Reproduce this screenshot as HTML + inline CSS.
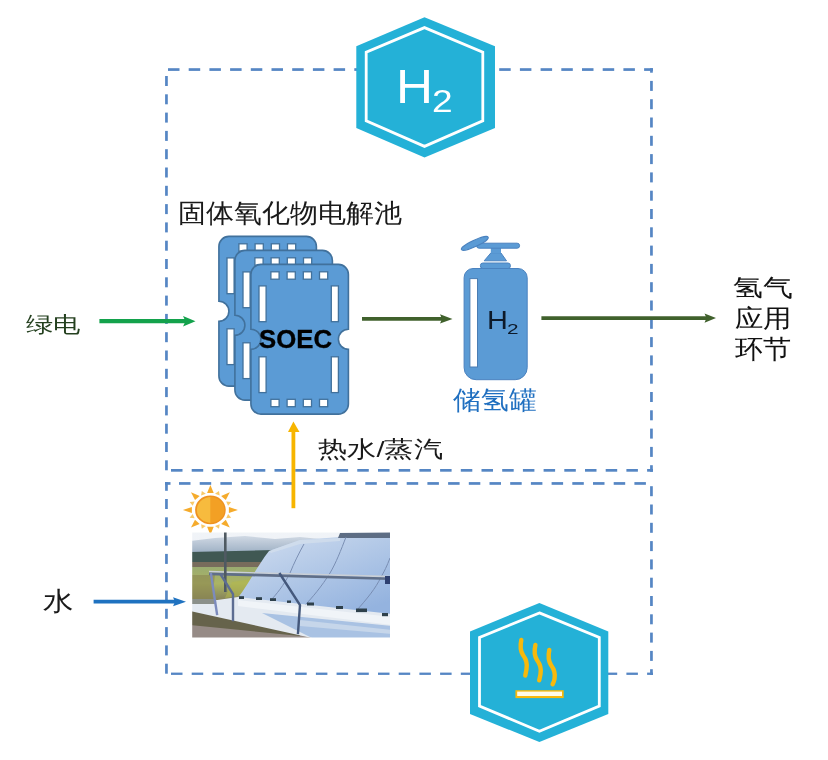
<!DOCTYPE html>
<html><head><meta charset="utf-8">
<style>
html,body{margin:0;padding:0;background:#fff;}
body{width:828px;height:760px;position:relative;overflow:hidden;font-family:"Liberation Sans",sans-serif;}
.t{position:absolute;white-space:nowrap;transform-origin:0 0;line-height:1;}
svg{position:absolute;left:0;top:0;}
</style></head><body>
<svg width="828" height="760" viewBox="0 0 828 760">
<defs>
  <g id="plate">
    <path d="M10,0 H87.5 A10,10 0 0 1 97.5,10 V64.85 A10,10 0 0 0 97.5,84.85 V139.7 A10,10 0 0 1 87.5,149.7 H10 A10,10 0 0 1 0,139.7 V84.85 A10,10 0 0 0 0,64.85 V10 A10,10 0 0 1 10,0 Z" fill="#5b9bd5" stroke="#41719c" stroke-width="1.6"/>
    <g fill="#fff" stroke="#41719c" stroke-width="1.3">
      <rect x="20.0" y="7.4" width="8.2" height="7.4"/><rect x="20.0" y="134.9" width="8.2" height="7.4"/>
      <rect x="36.2" y="7.4" width="8.2" height="7.4"/><rect x="36.2" y="134.9" width="8.2" height="7.4"/>
      <rect x="52.4" y="7.4" width="8.2" height="7.4"/><rect x="52.4" y="134.9" width="8.2" height="7.4"/>
      <rect x="68.6" y="7.4" width="8.2" height="7.4"/><rect x="68.6" y="134.9" width="8.2" height="7.4"/>
      <rect x="8.1" y="21.5" width="7.1" height="35.8"/>
      <rect x="8.1" y="92.4" width="7.1" height="35.8"/>
      <rect x="80.4" y="21.5" width="7.1" height="35.8"/>
      <rect x="80.4" y="92.4" width="7.1" height="35.8"/>
    </g>
  </g>
</defs>
<!-- dashed boxes -->
<g fill="#5586c4"><rect x="168.0" y="68.2" width="11.5" height="2.7"/><rect x="188.7" y="68.2" width="11.5" height="2.7"/><rect x="209.4" y="68.2" width="11.5" height="2.7"/><rect x="230.1" y="68.2" width="11.5" height="2.7"/><rect x="250.8" y="68.2" width="11.5" height="2.7"/><rect x="271.5" y="68.2" width="11.5" height="2.7"/><rect x="292.2" y="68.2" width="11.5" height="2.7"/><rect x="312.9" y="68.2" width="11.5" height="2.7"/><rect x="333.6" y="68.2" width="11.5" height="2.7"/><rect x="354.3" y="68.2" width="11.5" height="2.7"/><rect x="375.0" y="68.2" width="11.5" height="2.7"/><rect x="395.7" y="68.2" width="11.5" height="2.7"/><rect x="416.4" y="68.2" width="11.5" height="2.7"/><rect x="437.1" y="68.2" width="11.5" height="2.7"/><rect x="457.8" y="68.2" width="11.5" height="2.7"/><rect x="478.5" y="68.2" width="11.5" height="2.7"/><rect x="499.2" y="68.2" width="11.5" height="2.7"/><rect x="519.9" y="68.2" width="11.5" height="2.7"/><rect x="540.6" y="68.2" width="11.5" height="2.7"/><rect x="561.3" y="68.2" width="11.5" height="2.7"/><rect x="582.0" y="68.2" width="11.5" height="2.7"/><rect x="602.7" y="68.2" width="11.5" height="2.7"/><rect x="623.4" y="68.2" width="11.5" height="2.7"/><rect x="644.1" y="68.2" width="8.9" height="2.7"/><rect x="650.1" y="68.2" width="2.7" height="4.5"/><rect x="165.1" y="76.0" width="2.7" height="10.0"/><rect x="165.1" y="94.3" width="2.7" height="10.0"/><rect x="165.1" y="112.6" width="2.7" height="10.0"/><rect x="165.1" y="130.9" width="2.7" height="10.0"/><rect x="165.1" y="149.2" width="2.7" height="10.0"/><rect x="165.1" y="167.5" width="2.7" height="10.0"/><rect x="165.1" y="185.8" width="2.7" height="10.0"/><rect x="165.1" y="204.1" width="2.7" height="10.0"/><rect x="165.1" y="222.4" width="2.7" height="10.0"/><rect x="165.1" y="240.7" width="2.7" height="10.0"/><rect x="165.1" y="259.0" width="2.7" height="10.0"/><rect x="165.1" y="277.3" width="2.7" height="10.0"/><rect x="165.1" y="295.6" width="2.7" height="10.0"/><rect x="165.1" y="313.9" width="2.7" height="10.0"/><rect x="165.1" y="332.2" width="2.7" height="10.0"/><rect x="165.1" y="350.5" width="2.7" height="10.0"/><rect x="165.1" y="368.8" width="2.7" height="10.0"/><rect x="165.1" y="387.1" width="2.7" height="10.0"/><rect x="165.1" y="405.4" width="2.7" height="10.0"/><rect x="165.1" y="423.7" width="2.7" height="10.0"/><rect x="165.1" y="442.0" width="2.7" height="10.0"/><rect x="165.1" y="460.3" width="2.7" height="10.0"/><rect x="650.1" y="80.9" width="2.7" height="10.0"/><rect x="650.1" y="99.2" width="2.7" height="10.0"/><rect x="650.1" y="117.5" width="2.7" height="10.0"/><rect x="650.1" y="135.8" width="2.7" height="10.0"/><rect x="650.1" y="154.1" width="2.7" height="10.0"/><rect x="650.1" y="172.4" width="2.7" height="10.0"/><rect x="650.1" y="190.7" width="2.7" height="10.0"/><rect x="650.1" y="209.0" width="2.7" height="10.0"/><rect x="650.1" y="227.3" width="2.7" height="10.0"/><rect x="650.1" y="245.6" width="2.7" height="10.0"/><rect x="650.1" y="263.9" width="2.7" height="10.0"/><rect x="650.1" y="282.2" width="2.7" height="10.0"/><rect x="650.1" y="300.5" width="2.7" height="10.0"/><rect x="650.1" y="318.8" width="2.7" height="10.0"/><rect x="650.1" y="337.1" width="2.7" height="10.0"/><rect x="650.1" y="355.4" width="2.7" height="10.0"/><rect x="650.1" y="373.7" width="2.7" height="10.0"/><rect x="650.1" y="392.0" width="2.7" height="10.0"/><rect x="650.1" y="410.3" width="2.7" height="10.0"/><rect x="650.1" y="428.6" width="2.7" height="10.0"/><rect x="650.1" y="446.9" width="2.7" height="10.0"/><rect x="650.1" y="465.2" width="2.7" height="6.6"/><rect x="171.0" y="469.0" width="11.5" height="2.7"/><rect x="191.7" y="469.0" width="11.5" height="2.7"/><rect x="212.4" y="469.0" width="11.5" height="2.7"/><rect x="233.1" y="469.0" width="11.5" height="2.7"/><rect x="253.8" y="469.0" width="11.5" height="2.7"/><rect x="274.5" y="469.0" width="11.5" height="2.7"/><rect x="295.2" y="469.0" width="11.5" height="2.7"/><rect x="315.9" y="469.0" width="11.5" height="2.7"/><rect x="336.6" y="469.0" width="11.5" height="2.7"/><rect x="357.3" y="469.0" width="11.5" height="2.7"/><rect x="378.0" y="469.0" width="11.5" height="2.7"/><rect x="398.7" y="469.0" width="11.5" height="2.7"/><rect x="419.4" y="469.0" width="11.5" height="2.7"/><rect x="440.1" y="469.0" width="11.5" height="2.7"/><rect x="460.8" y="469.0" width="11.5" height="2.7"/><rect x="481.5" y="469.0" width="11.5" height="2.7"/><rect x="502.2" y="469.0" width="11.5" height="2.7"/><rect x="522.9" y="469.0" width="11.5" height="2.7"/><rect x="543.6" y="469.0" width="11.5" height="2.7"/><rect x="564.3" y="469.0" width="11.5" height="2.7"/><rect x="585.0" y="469.0" width="11.5" height="2.7"/><rect x="605.7" y="469.0" width="11.5" height="2.7"/><rect x="626.4" y="469.0" width="11.5" height="2.7"/><rect x="647.1" y="469.0" width="5.9" height="2.7"/><rect x="165.0" y="482.1" width="5.5" height="2.7"/><rect x="179.0" y="482.1" width="11.5" height="2.7"/><rect x="199.7" y="482.1" width="11.5" height="2.7"/><rect x="220.4" y="482.1" width="11.5" height="2.7"/><rect x="241.1" y="482.1" width="11.5" height="2.7"/><rect x="261.8" y="482.1" width="11.5" height="2.7"/><rect x="282.5" y="482.1" width="11.5" height="2.7"/><rect x="303.2" y="482.1" width="11.5" height="2.7"/><rect x="323.9" y="482.1" width="11.5" height="2.7"/><rect x="344.6" y="482.1" width="11.5" height="2.7"/><rect x="365.3" y="482.1" width="11.5" height="2.7"/><rect x="386.0" y="482.1" width="11.5" height="2.7"/><rect x="406.7" y="482.1" width="11.5" height="2.7"/><rect x="427.4" y="482.1" width="11.5" height="2.7"/><rect x="448.1" y="482.1" width="11.5" height="2.7"/><rect x="468.8" y="482.1" width="11.5" height="2.7"/><rect x="489.5" y="482.1" width="11.5" height="2.7"/><rect x="510.2" y="482.1" width="11.5" height="2.7"/><rect x="530.9" y="482.1" width="11.5" height="2.7"/><rect x="551.6" y="482.1" width="11.5" height="2.7"/><rect x="572.3" y="482.1" width="11.5" height="2.7"/><rect x="593.0" y="482.1" width="11.5" height="2.7"/><rect x="613.7" y="482.1" width="11.5" height="2.7"/><rect x="634.4" y="482.1" width="11.5" height="2.7"/><rect x="165.1" y="482.0" width="2.7" height="8.8"/><rect x="165.1" y="499.0" width="2.7" height="10.0"/><rect x="165.1" y="517.3" width="2.7" height="10.0"/><rect x="165.1" y="535.6" width="2.7" height="10.0"/><rect x="165.1" y="553.9" width="2.7" height="10.0"/><rect x="165.1" y="572.2" width="2.7" height="10.0"/><rect x="165.1" y="590.5" width="2.7" height="10.0"/><rect x="165.1" y="608.8" width="2.7" height="10.0"/><rect x="165.1" y="627.1" width="2.7" height="10.0"/><rect x="165.1" y="645.4" width="2.7" height="10.0"/><rect x="165.1" y="663.7" width="2.7" height="10.0"/><rect x="650.1" y="486.2" width="2.7" height="10.0"/><rect x="650.1" y="504.5" width="2.7" height="10.0"/><rect x="650.1" y="522.8" width="2.7" height="10.0"/><rect x="650.1" y="541.1" width="2.7" height="10.0"/><rect x="650.1" y="559.4" width="2.7" height="10.0"/><rect x="650.1" y="577.7" width="2.7" height="10.0"/><rect x="650.1" y="596.0" width="2.7" height="10.0"/><rect x="650.1" y="614.3" width="2.7" height="10.0"/><rect x="650.1" y="632.6" width="2.7" height="10.0"/><rect x="650.1" y="650.9" width="2.7" height="10.0"/><rect x="650.1" y="669.2" width="2.7" height="5.8"/><rect x="171.0" y="672.6" width="11.5" height="2.3"/><rect x="191.7" y="672.6" width="11.5" height="2.3"/><rect x="212.4" y="672.6" width="11.5" height="2.3"/><rect x="233.1" y="672.6" width="11.5" height="2.3"/><rect x="253.8" y="672.6" width="11.5" height="2.3"/><rect x="274.5" y="672.6" width="11.5" height="2.3"/><rect x="295.2" y="672.6" width="11.5" height="2.3"/><rect x="315.9" y="672.6" width="11.5" height="2.3"/><rect x="336.6" y="672.6" width="11.5" height="2.3"/><rect x="357.3" y="672.6" width="11.5" height="2.3"/><rect x="378.0" y="672.6" width="11.5" height="2.3"/><rect x="398.7" y="672.6" width="11.5" height="2.3"/><rect x="419.4" y="672.6" width="11.5" height="2.3"/><rect x="440.1" y="672.6" width="11.5" height="2.3"/><rect x="460.8" y="672.6" width="11.5" height="2.3"/><rect x="481.5" y="672.6" width="11.5" height="2.3"/><rect x="502.2" y="672.6" width="11.5" height="2.3"/><rect x="522.9" y="672.6" width="11.5" height="2.3"/><rect x="543.6" y="672.6" width="11.5" height="2.3"/><rect x="564.3" y="672.6" width="11.5" height="2.3"/><rect x="585.0" y="672.6" width="11.5" height="2.3"/><rect x="605.7" y="672.6" width="11.5" height="2.3"/><rect x="626.4" y="672.6" width="11.5" height="2.3"/><rect x="647.1" y="672.6" width="5.9" height="2.3"/></g>
<!-- top hexagon -->
<polygon points="424.5,17.2 495,46.2 495,128 424.5,157.5 356.3,128 356.3,46.2" fill="#24b1d7"/>
<polygon points="424.5,27.6 482.8,52.3 482.8,120.8 424.5,146.4 366.2,120.8 366.2,52.3" fill="none" stroke="#fff" stroke-width="2.8"/>
<!-- bottom hexagon -->
<polygon points="539.4,603 608.3,631.4 608.3,714 539.4,742 470,714 470,631.4" fill="#24b1d7"/>
<polygon points="539.4,612.9 599.3,637.4 599.3,706.1 539.4,731.2 479.5,706.1 479.5,637.4" fill="none" stroke="#fff" stroke-width="2.8"/>
<!-- steam -->
<g fill="none" stroke="#f7b90c" stroke-width="4.4" stroke-linecap="round">
  <path d="M521.3,640 C520,646 520.5,651 523,655 C526,659 527.5,664 526.5,669 C526,672 525.5,674 525.3,675.5"/>
  <path d="M535.4,645 C534,651 534.5,656 537,660 C540,664 541.5,669 540.5,674 C540,677 539.5,679 539.2,680.3"/>
  <path d="M549.3,650 C548,656 548.5,661 551,665 C554,669 555.5,674 554.5,679 C554,682 553,683.5 552.6,684.3"/>
</g>
<rect x="515.4" y="690.2" width="48.3" height="7.9" fill="#f7b90c"/>
<rect x="517.2" y="691.6" width="44.8" height="4.4" fill="#fffbe8"/>
<!-- SOEC plates -->
<use href="#plate" x="218.9" y="236.4"/>
<use href="#plate" x="234.9" y="250.4"/>
<use href="#plate" x="250.9" y="264.4"/>
<!-- arrows -->
<line x1="99.4" y1="321.2" x2="187" y2="321.2" stroke="#13a24c" stroke-width="4.2"/>
<polygon points="183,315.9 195.5,321.2 183,326.5 185.5,321.2" fill="#13a24c"/>
<line x1="362" y1="318.9" x2="443" y2="318.9" stroke="#40612c" stroke-width="3.8"/>
<polygon points="440,314.3 452.5,318.9 440,323.5 442,318.9" fill="#40612c"/>
<line x1="541.4" y1="318.1" x2="708" y2="318.1" stroke="#40612c" stroke-width="3.8"/>
<polygon points="704.5,313.6 716,318.1 704.5,322.8 706.5,318.1" fill="#40612c"/>
<line x1="93.6" y1="601.7" x2="177" y2="601.7" stroke="#1f72c0" stroke-width="3.8"/>
<polygon points="173,597.2 186,601.7 173,606.2 175,601.7" fill="#1f72c0"/>
<!-- tank -->
<g fill="#5b9bd5" stroke="#4a82bf" stroke-width="1">
  <path d="M473,268.5 H518 A9.2,9.2 0 0 1 527.2,277.7 V367.7 A12,12 0 0 1 515.2,379.7 H476.1 A12,12 0 0 1 464.1,367.7 V277.7 A9,9 0 0 1 473,268.5 Z"/>
  <rect x="480.4" y="263" width="30" height="5.5" rx="2.5"/>
  <polygon points="484.2,260.8 506.5,260.8 501,253 490.8,253"/>
  <rect x="490.8" y="247.5" width="10.2" height="6" stroke="none"/>
  <rect x="476.6" y="243.2" width="43" height="5" rx="2.5"/>
  <ellipse cx="474.8" cy="243.4" rx="14.8" ry="3.2" transform="rotate(-25 474.8 243.4)"/>
</g>
<rect x="469.9" y="278.6" width="7.6" height="88.4" fill="#fff" stroke="#4a7db3" stroke-width="1"/>
<!-- sun -->
<g transform="translate(210.4,509.9)">
<polygon points="0.0,-25.0 3.3,-16.8 -3.3,-16.8" fill="#f5ab2c"/>
<polygon points="8.6,-18.9 9.3,-14.4 4.6,-16.1" fill="#f8c968"/>
<polygon points="19.4,-17.7 15.4,-9.8 10.7,-14.0" fill="#f5ab2c"/>
<polygon points="20.8,-7.8 17.7,-4.2 15.8,-8.4" fill="#f8c968"/>
<polygon points="27.5,0.0 18.5,3.0 18.5,-3.0" fill="#f5ab2c"/>
<polygon points="20.8,7.8 15.8,8.4 17.7,4.2" fill="#f8c968"/>
<polygon points="19.4,17.7 10.7,14.0 15.4,9.8" fill="#f5ab2c"/>
<polygon points="8.6,18.9 4.6,16.1 9.3,14.4" fill="#f8c968"/>
<polygon points="0.0,25.0 -3.3,16.8 3.3,16.8" fill="#f5ab2c"/>
<polygon points="-8.6,18.9 -9.3,14.4 -4.6,16.1" fill="#f8c968"/>
<polygon points="-19.4,17.7 -15.4,9.8 -10.7,14.0" fill="#f5ab2c"/>
<polygon points="-20.8,7.8 -17.7,4.2 -15.8,8.4" fill="#f8c968"/>
<polygon points="-27.5,0.0 -18.5,-3.0 -18.5,3.0" fill="#f5ab2c"/>
<polygon points="-20.8,-7.8 -15.8,-8.4 -17.7,-4.2" fill="#f8c968"/>
<polygon points="-19.4,-17.7 -10.7,-14.0 -15.4,-9.8" fill="#f5ab2c"/>
<polygon points="-8.6,-18.9 -4.6,-16.1 -9.3,-14.4" fill="#f8c968"/>
  <ellipse cx="0" cy="0" rx="15.3" ry="14.4" fill="#ee9220"/>
  <path d="M0.5,-13 A14,13 0 0 0 0.5,13 Z" fill="#f7bb3e"/>
  <path d="M0,-13 A14,13 0 0 1 0,13 Z" fill="#f3a024"/>
</g>
<!-- photo -->
<defs>
  <clipPath id="pc"><rect x="192.2" y="532.4" width="197.8" height="105.1"/></clipPath>
  <linearGradient id="sky" x1="0" y1="0" x2="0" y2="1"><stop offset="0" stop-color="#f1f4f8"/><stop offset="1" stop-color="#dfe6ee"/></linearGradient>
  <linearGradient id="mtn" x1="0" y1="0" x2="0" y2="1"><stop offset="0" stop-color="#d0d9e4"/><stop offset="0.55" stop-color="#a9b9cb"/><stop offset="1" stop-color="#7f97b0"/></linearGradient>
  <linearGradient id="mir" x1="0" y1="0" x2="0.7" y2="1"><stop offset="0" stop-color="#d2def0"/><stop offset="0.45" stop-color="#b6cbe8"/><stop offset="1" stop-color="#94b3df"/></linearGradient>
  <linearGradient id="mir2" x1="0" y1="0" x2="0" y2="1"><stop offset="0" stop-color="#a9c0e0"/><stop offset="1" stop-color="#9cb6de"/></linearGradient>
  <linearGradient id="fld" x1="0" y1="0" x2="0" y2="1"><stop offset="0" stop-color="#9aab70"/><stop offset="0.5" stop-color="#abb464"/><stop offset="1" stop-color="#85825a"/></linearGradient>
  <filter id="soft" x="-5%" y="-5%" width="110%" height="110%"><feGaussianBlur stdDeviation="0.55"/></filter>
</defs>
<g clip-path="url(#pc)"><g filter="url(#soft)">
  <rect x="190" y="530" width="202" height="110" fill="url(#sky)"/>
  <path d="M190,541 L215,538 L245,536 L275,539 L300,537 L330,540 L392,538 V560 H190 Z" fill="url(#mtn)"/>
  <path d="M190,552 L275,550 L275,563 L190,563 Z" fill="#3f5853"/>
  <path d="M190,562 L272,562 L270,568 L190,568 Z" fill="#786c5c"/>
  <path d="M190,567 L270,567 L240,600 L190,600 Z" fill="url(#fld)"/>
  <path d="M192,575 L215,575 L212,600 L192,600 Z" fill="#8a8650" opacity="0.6"/>
  <path d="M258,578 L245,595 L225,598 L232,582 Z" fill="#b3b84a" opacity="0.55"/>
  <!-- mirror upper -->
  <path d="M269,551 L300,540 L340,537 L392,535 V618 L237,599 C248,585 258,565 269,551 Z" fill="url(#mir)"/>
  <path d="M340,533 L392,532 V538 L338,538 Z" fill="#5d6d84"/>
  <path d="M269,551 L300,540 L340,538 L340,541 L300,544 L271,553 Z" fill="#d4dfec" opacity="0.7"/>
  <!-- panel seams -->
  <g stroke="#7488ad" stroke-width="1" fill="none" opacity="0.9">
    <path d="M304,544 C299,553 294,563 290,573 C284,585 276,595 270,601"/>
    <path d="M346,537 C341,550 336,563 330,573 C322,586 312,598 305,605"/>
    <path d="M390,558 C387,566 384,572 381,577 C376,588 366,600 357,610"/>
  </g>
  <!-- lower mirror / reflective -->
  <path d="M190,609 L318,639 L190,639 Z" fill="#968b86"/>
  <path d="M190,610 L300,633 L300,636 L190,625 Z" fill="#66634b"/>
  <path d="M190,604 L238,597 L392,614 V638 L312,638 L190,611 Z" fill="#e4eaf1"/>
  <path d="M262,613 L392,626 V638 L312,638 Z" fill="#a9c2e3"/>
  <path d="M300,620 L392,630 V634 L300,626 Z" fill="#c6d6ea"/>
  <path d="M238,600 L392,617 V625 L238,606 Z" fill="#f0f4f8"/>
  <path d="M190,599 L216,599 L216,604 L190,604 Z" fill="#8b908a"/>
<!-- receiver dots row -->
  <g fill="#2f404c">
    <rect x="239" y="596.2" width="5" height="2.8"/><rect x="256" y="597.2" width="6" height="2.8"/><rect x="270" y="598.2" width="6" height="2.8"/>
    <rect x="287" y="600.5" width="4" height="2.4"/><rect x="307" y="602.5" width="7" height="3"/><rect x="336" y="606" width="7" height="3"/><rect x="356" y="608.5" width="11" height="3.6"/><rect x="382" y="613" width="6" height="3.2"/>
  </g>
<!-- rail -->
  <path d="M209,570.8 L390,575.8 L390,577.4 L209,572.4 Z" fill="#c9cfd6"/>
  <path d="M209,572.4 L390,577.4 L390,580 L209,575.2 Z" fill="#5f6e88"/>
  <rect x="385" y="576" width="6" height="8" fill="#2f4070"/>
<!-- pole -->
  <rect x="224" y="532" width="2.6" height="60" fill="#505a62"/>
  <!-- supports -->
  <g fill="none" stroke-linecap="square">
    <path d="M280,574 L300,605 L298,633" stroke="#44597c" stroke-width="2.4"/>
    <path d="M211,574 L217,614" stroke="#7c8bbd" stroke-width="2.4"/>
    <path d="M221,575 L233,594 L233,620" stroke="#5d6d92" stroke-width="2.4"/>
  </g>
</g></g>
<!-- yellow arrow -->
<line x1="293.4" y1="508.2" x2="293.4" y2="428" stroke="#f7b500" stroke-width="3.8"/>
<polygon points="288,432 293.4,421.5 299.5,432" fill="#f7b500"/>
</svg>
<!-- texts -->
<div class="t" id="tH" style="left:395.82px;top:63.31px;font-size:47.19px;color:#fff;transform:scaleX(1.0864);">H</div>
<div class="t" id="t2" style="left:431.66px;top:85.8px;font-size:31.44px;color:#fff;transform:scaleX(1.1803);">2</div>
<div class="t" id="title" style="font-weight:300;left:177.89px;top:199.52px;font-size:26.37px;color:#1a1a1a;transform:scaleX(1.0753);">固体氧化物电解池</div>
<div class="t" id="soec" style="left:259.17px;top:326.86px;font-size:25.9px;font-weight:bold;color:#000;-webkit-text-stroke:0.35px #000;transform:scaleX(0.9945);">SOEC</div>
<div class="t" id="tankH" style="left:487.39px;top:307.7px;font-size:24.9px;color:#0d1a2a;transform:scaleX(1.1605);">H</div>
<div class="t" id="tank2" style="left:507.08px;top:321.86px;font-size:14.93px;color:#0d1a2a;transform:scaleX(1.3876);">2</div>
<div class="t" id="tanklbl" style="font-weight:300;left:453.16px;top:387.97px;font-size:25.51px;color:#1f6fc0;transform:scaleX(1.0715);">储氢罐</div>
<div class="t" id="lv" style="font-weight:300;left:26.05px;top:314.11px;font-size:22.25px;color:#24401f;transform:scaleX(1.2400);">绿电</div>
<div class="t" id="app1" style="font-weight:300;left:733.21px;top:276.48px;font-size:24.36px;color:#111;transform:scaleX(1.2481);">氢气</div>
<div class="t" id="app2" style="font-weight:300;left:734.62px;top:306.2px;font-size:25.17px;color:#111;transform:scaleX(1.1371);">应用</div>
<div class="t" id="app3" style="font-weight:300;left:734.94px;top:336.95px;font-size:25.6px;color:#111;transform:scaleX(1.0861);">环节</div>
<div class="t" id="steam" style="font-weight:300;left:317.86px;top:437.53px;font-size:22.71px;color:#1a1a1a;transform:scaleX(1.2708);">热水/蒸汽</div>
<div class="t" id="water" style="font-weight:300;left:43.3px;top:587.93px;font-size:26.05px;color:#1a1a1a;transform:scaleX(1.1718);">水</div>
</body></html>
